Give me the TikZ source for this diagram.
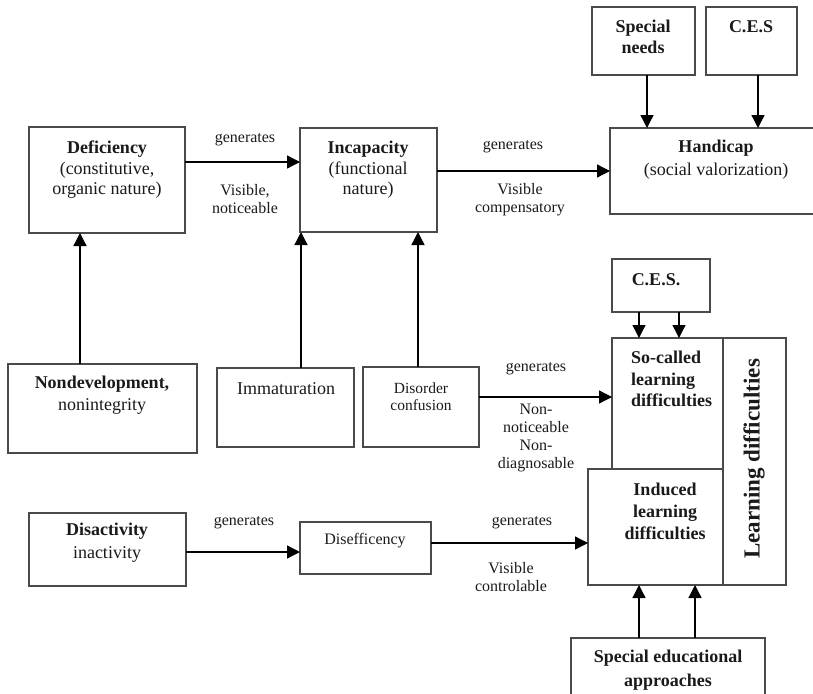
\documentclass[tikz,border=0pt]{standalone}
\usepackage{fontspec}
\setmainfont{Liberation Serif}
\usetikzlibrary{arrows.meta}
\definecolor{boxline}{HTML}{4A4A4A}
\definecolor{ink}{HTML}{1A1A1A}
\tikzset{
  box/.style={draw=boxline, line width=1.2pt, inner sep=0pt, outer sep=0pt, anchor=north west},
  txt/.style={inner sep=0pt, align=center, text=ink, font=\fontsize{18}{20.5}\selectfont},
  smalltxt/.style={inner sep=0pt, align=center, text=ink, font=\fontsize{16}{18}\selectfont},
  lbl/.style={inner sep=0pt, align=center, text=ink, font=\fontsize{16}{18}\selectfont},
  arr/.style={draw=black, line width=1.3pt, -{Triangle[length=13pt,width=13pt]}},
}
\begin{document}
\begin{tikzpicture}[x=1pt,y=-1pt]
\useasboundingbox (0,0) rectangle (813,693);
\clip (0,0) rectangle (813,693);
% boxes
\node[box, minimum width=156, minimum height=106] (def) at (29,127) {};
\node[box, minimum width=137, minimum height=104] (inc) at (300,128) {};
\node[box, minimum width=103, minimum height=68] (spec) at (592,7) {};
\node[box, minimum width=91, minimum height=68] (ces) at (706,7) {};
\node[box, minimum width=220, minimum height=86] (hand) at (610,128) {};
\node[box, minimum width=189, minimum height=89] (nondev) at (8,364) {};
\node[box, minimum width=137, minimum height=79] (imm) at (217,368) {};
\node[box, minimum width=116, minimum height=80] (dis) at (363,367) {};
\node[box, minimum width=98, minimum height=53] (cesb) at (612,259) {};
\node[box, minimum width=111, minimum height=131] (so) at (612,338) {};
\node[box, minimum width=135, minimum height=116] (ind) at (588,469) {};
\node[box, minimum width=63, minimum height=247] (ld) at (723,338) {};
\node[box, minimum width=194, minimum height=82] (sea) at (571,638) {};
\node[box, minimum width=157, minimum height=73] (disact) at (29,513) {};
\node[box, minimum width=131, minimum height=52] (disef) at (300,522) {};
% box texts
\node[txt] (tdef) at (107,170) {\textbf{Deficiency}\\(constitutive,\\organic nature)};
\node[txt] (tinc) at (368,170) {\textbf{Incapacity}\\(functional\\nature)};
\node[txt, font=\fontsize{18}{21}\selectfont] (tspec) at (643,37) {\textbf{Special}\\\textbf{needs}};
\node[txt] (tces) at (751,27) {\textbf{C.E.S}};
\node[txt, font=\fontsize{18}{23}\selectfont] (thand) at (716,160) {\textbf{Handicap}\\(social valorization)};
\node[txt, font=\fontsize{18}{22}\selectfont] (tnondev) at (102,395) {\textbf{Nondevelopment,}\\nonintegrity};
\node[txt] (timm) at (286,389) {Immaturation};
\node[smalltxt, font=\fontsize{15.5}{17}\selectfont] (tdis) at (421,397) {Disorder\\confusion};
\node[txt] (tcesb) at (656,280) {\textbf{C.E.S.}};
\node[txt, align=left, anchor=west, font=\fontsize{18}{21.5}\selectfont] (tso) at (631,379) {\textbf{So-called}\\\textbf{learning}\\\textbf{difficulties}};
\node[txt, font=\fontsize{18}{22}\selectfont] (tind) at (665,511) {\textbf{Induced}\\\textbf{learning}\\\textbf{difficulties}};
\node[txt, rotate=90, font=\fontsize{23}{25}\selectfont] (tld) at (754,459) {\textbf{Learning difficulties}};
\node[txt, font=\fontsize{18}{24}\selectfont] (tsea) at (668,670) {\textbf{Special educational}\\\textbf{approaches}};
\node[txt, font=\fontsize{18}{23}\selectfont] (tdisact) at (107,543) {\textbf{Disactivity}\\inactivity};
\node[smalltxt] (tdisef) at (365,541) {Disefficency};
% connectors
\draw[arr] ([yshift=18pt]def.east) -- ([yshift=18pt]def.east -| inc.west);
\draw[arr] (inc.east |- hand.west) -- (hand.west);
\draw[arr] ([xshift=3.5pt]spec.south) -- ([xshift=3.5pt]spec.south |- hand.north);
\draw[arr] ([xshift=6.5pt]ces.south) -- ([xshift=6.5pt]ces.south |- hand.north);
\draw[arr] ([xshift=-22.5pt]nondev.north) -- ([xshift=-22.5pt]nondev.north |- def.south);
\draw[arr] ([xshift=1pt]inc.south west |- imm.north) -- ([xshift=1pt]inc.south west);
\draw[arr] ([xshift=-3pt]dis.north) -- ([xshift=-3pt]dis.north |- inc.south);
\draw[arr] ([yshift=10pt]dis.east) -- ([yshift=10pt]dis.east -| so.west);
\draw[arr] ([xshift=-22pt]cesb.south) -- ([xshift=-22pt]cesb.south |- so.north);
\draw[arr] ([xshift=18pt]cesb.south) -- ([xshift=18pt]cesb.south |- so.north);
\draw[arr] ([yshift=-2.5pt]disact.east) -- ([yshift=-2.5pt]disact.east -| disef.west);
\draw[arr] ([yshift=5pt]disef.east) -- ([yshift=5pt]disef.east -| ind.west);
\draw[arr] ([xshift=-29pt]sea.north) -- ([xshift=-29pt]sea.north |- ind.south);
\draw[arr] ([xshift=27pt]sea.north) -- ([xshift=27pt]sea.north |- ind.south);
% connector labels
\node[lbl] (g1) at (245,140) {generates};
\node[lbl] (v1) at (245,199) {Visible,\\noticeable};
\node[lbl] (g2) at (513,147) {generates};
\node[lbl] (v2) at (520,200) {Visible\\compensatory};
\node[lbl] (g3) at (536,369) {generates};
\node[lbl] (v3) at (536,437.5) {Non-\\noticeable\\Non-\\diagnosable};
\node[lbl] (g4) at (244,523) {generates};
\node[lbl] (g5) at (522,523) {generates};
\node[lbl] (v5) at (511,577) {Visible\\controlable};
\end{tikzpicture}
\end{document}
